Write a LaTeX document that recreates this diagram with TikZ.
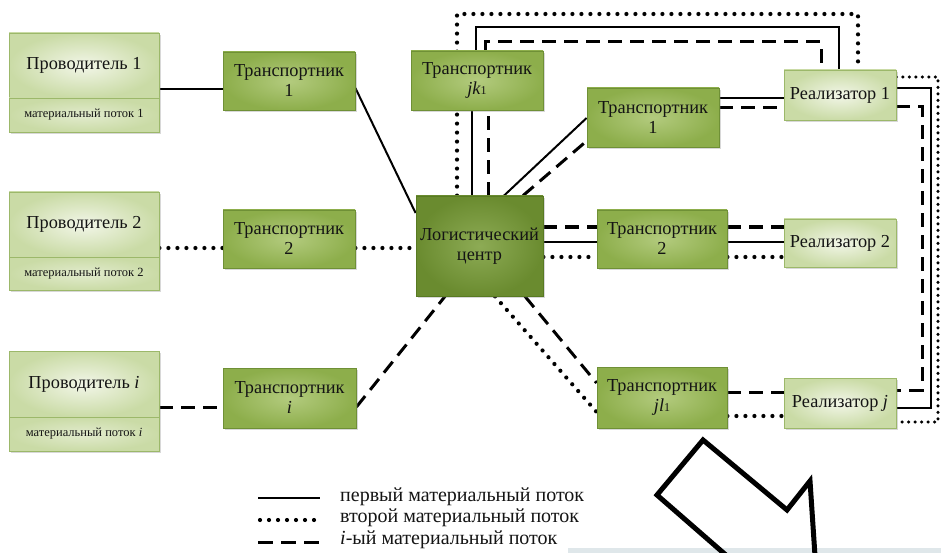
\documentclass[tikz,border=0pt]{standalone}
\usepackage{fontspec}
\setmainfont{Liberation Serif}
\usetikzlibrary{shadows,calc}
\pgfdeclarelayer{bg}
\pgfdeclarelayer{paper}
\pgfsetlayers{paper,bg,main}
\newcommand\fbig{\fontsize{18.3}{20}\selectfont}
\newcommand\fsml{\fontsize{12.5}{13}\selectfont}
\newcommand\fleg{\fontsize{20}{21}\selectfont}
\newcommand\idx[1]{{\fontsize{12}{12}\selectfont #1}}
\definecolor{tgA}{HTML}{B3CB7E}
\definecolor{tgB}{HTML}{8DAE4B}
\definecolor{tgD}{HTML}{6F9036}
\definecolor{lcA}{HTML}{8DAB55}
\definecolor{lcB}{HTML}{6A8B2F}
\definecolor{lcD}{HTML}{587A22}
\definecolor{lgA}{HTML}{F2F6E8}
\definecolor{lgB}{HTML}{CADBA6}
\definecolor{lgD}{HTML}{9CB86A}
\definecolor{strip}{HTML}{DFE7EA}
\definecolor{ink}{HTML}{141414}
\begin{document}
\begin{tikzpicture}[x=1pt,y=-1pt,
  shd/.style={drop shadow={shadow xshift=1.6pt,shadow yshift=-1.6pt,opacity=0.3}},
  tb/.style={draw=tgD,line width=0.8pt,inner color=tgA,outer color=tgB,shd,
     inner sep=0pt,align=center,text=ink,font=\fbig},
  lcb/.style={draw=lcD,line width=0.8pt,inner color=lcA,outer color=lcB,shd,
     inner sep=0pt,align=center,text=ink,font=\fbig},
  lb/.style={draw=lgD,line width=0.8pt,inner color=lgA,outer color=lgB,shd,
     inner sep=0pt,align=center,text=ink,font=\fbig},
  lbs/.style={draw=lgD,line width=0.8pt,inner color=lgA!60!lgB,outer color=lgB,shd,
     inner sep=0pt,align=center,text=ink,font=\fsml},
  sl/.style={line width=2pt,black},
  dl/.style={line width=4.2pt,black,line cap=round,dash pattern=on 0pt off 9pt},
  ml/.style={line width=3pt,black,dash pattern=on 14pt off 8pt},
]
\begin{pgfonlayer}{paper}
\fill[white] (0,0) rectangle (941,553);
\end{pgfonlayer}
\useasboundingbox (0,0) rectangle (941,553);

% producers
\node[lb,minimum width=150,minimum height=65] (p1) at (84,65.5) {Проводитель 1};
\node[lbs,minimum width=150,minimum height=34] (p1s) at (84,115) {материальный поток 1};
\node[lb,minimum width=150,minimum height=65] (p2) at (84,224.5) {Проводитель 2};
\node[lbs,minimum width=150,minimum height=33] (p2s) at (84,273.5) {материальный поток 2};
\node[lb,minimum width=150,minimum height=66] (pi) at (84,384) {Проводитель \textit{i}};
\node[lbs,minimum width=150,minimum height=34] (pis) at (84,434) {материальный поток \textit{i}};

% left transporters
\node[tb,minimum width=132,minimum height=58] (t1l) at (289,81) {Транспортник\\1};
\node[tb,minimum width=132,minimum height=58] (t2l) at (289,239) {Транспортник\\2};
\node[tb,minimum width=133,minimum height=60] (til) at (289.5,398) {Транспортник\\\textit{i}};

% centre
\node[lcb,minimum width=127,minimum height=100] (lc) at (479.5,246) {Логистический\\центр};
\node[tb,minimum width=132,minimum height=59] (jk) at (477,80.5) {Транспортник\\\textit{jk}\idx{1}};

% right transporters
\node[tb,minimum width=132,minimum height=59] (t1r) at (653,117.5) {Транспортник\\1};
\node[tb,minimum width=130,minimum height=58] (t2r) at (662,239) {Транспортник\\2};
\node[tb,minimum width=130,minimum height=61] (jl) at (662,397.5) {Транспортник\\\textit{jl}\idx{1}};

% sellers
\node[lb,minimum width=112,minimum height=50] (r1) at (840,95) {Реализатор 1};
\node[lb,minimum width=112,minimum height=48] (r2) at (840,243) {Реализатор 2};
\node[lb,minimum width=112,minimum height=50] (rj) at (840,403) {Реализатор \textit{j}};

\begin{pgfonlayer}{bg}
% producers to transporters
\draw[sl] (p1.east |- 0,89) -- (t1l.west |- 0,89);
\draw[dl] (p2.east |- 0,248) -- (t2l.west |- 0,248);
\draw[ml] (pi.east |- 0,407) -- (til.west |- 0,407);
% transporters to centre
\draw[sl] (t1l.east |- 0,88) -- (lc.west |- 0,213);
\draw[dl] (t2l.east |- 0,248) -- (lc.west |- 0,248);
\draw[ml] (til.east |- 0,407) -- (445,0 |- lc.south);
% centre to right transporter 1
\draw[sl] (504,0 |- lc.north) -- (t1r.west |- 0,118);
\draw[ml] (523,0 |- lc.north) -- (t1r.west |- 0,141);
% centre to transporter 2
\draw[ml] (lc.east |- 0,227) -- (t2r.west |- 0,227);
\draw[sl] (lc.east |- 0,242) -- (t2r.west |- 0,242);
\draw[dl] (lc.east |- 0,257) -- (t2r.west |- 0,257);
% centre to jl1
\draw[dl] (495,0 |- lc.south) -- (jl.west |- 0,412);
\draw[ml] (525,0 |- lc.south) -- (jl.west |- 0,383);
% transporters to sellers
\draw[sl] (t1r.east |- 0,98) -- (r1.west |- 0,98);
\draw[ml] (t1r.east |- 0,108) -- (r1.west |- 0,108);
\draw[ml] (t2r.east |- 0,227) -- (r2.west |- 0,227);
\draw[sl] (t2r.east |- 0,242) -- (r2.west |- 0,242);
\draw[dl] (t2r.east |- 0,257) -- (r2.west |- 0,257);
\draw[ml] (jl.east |- 0,392) -- (rj.west |- 0,392);
\draw[dl] (jl.east |- 0,416) -- (rj.west |- 0,416);
% centre up through jk1
\draw[dl] (457,0 |- lc.north) -- (457,14) -- (858,14) -- (858,62);
\draw[sl] (472,0 |- lc.north) -- (472,0 |- jk.south);
\draw[sl] (476,0 |- jk.north) -- (476,27) -- (839,27) -- (839,0 |- r1.north);
\draw[ml] (488,0 |- lc.north) -- (488,0 |- jk.south);
\draw[ml] (485,0 |- jk.north) -- (485,42) -- (821,42) -- (821,0 |- r1.north);
% right side loops
\draw[dl,line width=3.4pt,dash pattern=on 0pt off 6.5pt] (r1.east |- 0,77) -- (938,77) -- (938,422) -- (rj.east |- 0,422);
\draw[sl] (r1.east |- 0,88) -- (931,88) -- (931,408) -- (rj.east |- 0,408);
\draw[ml] (r1.east |- 0,107) -- (922,107) -- (922,390) -- (rj.east |- 0,390);
\end{pgfonlayer}

% legend
\coordinate (l1a) at (258,498); \coordinate (l1b) at (320,498);
\coordinate (l2a) at (260,520); \coordinate (l2b) at (320,520);
\coordinate (l3a) at (258,542); \coordinate (l3b) at (320,542);
\draw[sl] (l1a) -- (l1b);
\draw[dl] (l2a) -- (l2b);
\draw[ml,dash pattern=on 15pt off 8pt] (l3a) -- (l3b);
\node[anchor=west,font=\fleg,text=ink,inner sep=0pt] (g1) at (340,497) {первый материальный поток};
\node[anchor=west,font=\fleg,text=ink,inner sep=0pt] (g2) at (340,518) {второй материальный поток};
\node[anchor=west,font=\fleg,text=ink,inner sep=0pt] (g3) at (340,540) {\textit{i}-ый материальный поток};

% bottom strip and hollow arrow
\fill[strip] (568,548) rectangle (941,553);
\draw[line width=5pt,black,line join=miter] (727,556) -- (657,495) -- (703,440) -- (787,510) -- (810,481) -- (815,556);
\end{tikzpicture}
\end{document}
